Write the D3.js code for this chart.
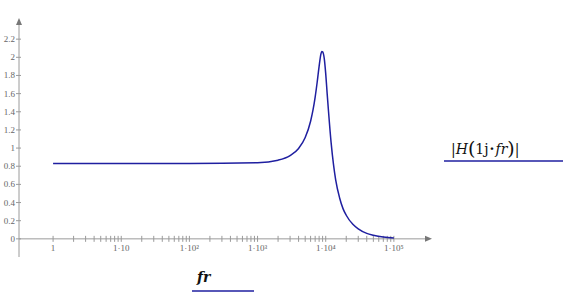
<!DOCTYPE html>
<html lang="en">
<head>
    <meta charset="UTF-8">
    <title>|H(1j·fr)|</title>
    <script src="https://d3js.org/d3.v7.min.js"></script>
    <style>
        body {
            margin: 0;
            background: #fff;
        }
        .tick-label {
            font-family: "Liberation Serif", serif;
            font-size: 9px;
            fill: #666;
        }
        .legend-text {
            font-family: "DejaVu Serif", serif;
            fill: #111;
        }
    </style>
</head>
<body>
    <div id="chart"></div>

    <script>
        const width = 581, height = 298;

        // frequency samples (fr) and magnitude |H(1j*fr)|
        const freqs = [1, 10, 100, 1000, 2000, 3000, 4000, 5000, 6000, 6500, 7000, 7500, 8000, 8500, 8750, 9000,
                       9500, 10000, 10500, 11000, 12000, 13000, 14000, 16000, 18000, 20000, 25000, 30000, 40000,
                       50000, 70000, 100000];
        const mags = [0.83, 0.83, 0.83, 0.839, 0.867, 0.917, 0.996, 1.116, 1.296, 1.417, 1.562, 1.728, 1.90, 2.035, 2.065, 2.06,
                      1.99, 1.82, 1.60, 1.40, 1.06, 0.82, 0.65, 0.45, 0.33, 0.26, 0.16, 0.11, 0.06,
                      0.04, 0.02, 0.01];

        const yTicks = [0, 0.2, 0.4, 0.6, 0.8, 1, 1.2, 1.4, 1.6, 1.8, 2, 2.2];
        const xMajor = [1, 10, 100, 1000, 10000, 100000];
        const xMajorLabels = ["1", "1·10", "1·10²", "1·10³", "1·10⁴", "1·10⁵"];

        const data = freqs.map((f, i) => ({ f: f, m: mags[i] }));

        const svg = d3.select("#chart")
            .append("svg")
            .attr("width", width)
            .attr("height", height);

        const x = d3.scaleLog()
            .domain([Math.pow(10, -0.5), Math.pow(10, 5.53)])
            .range([19, 430]);

        const y = d3.scaleLinear()
            .domain([-0.2, 2.4])
            .range([257, 21]);

        const axisColor = "#9a9a9a";
        const x0 = x.range()[0];

        // y axis line + arrow
        svg.append("line")
            .attr("x1", x0).attr("x2", x0)
            .attr("y1", y(-0.2)).attr("y2", y(2.4) + 2)
            .attr("stroke", axisColor).attr("stroke-width", 1);
        svg.append("path")
            .attr("d", `M${x0 - 3},${y(2.4) + 4} L${x0},${y(2.4) - 3} L${x0 + 3},${y(2.4) + 4} Z`)
            .attr("fill", "#777");

        // x axis line + arrow
        svg.append("line")
            .attr("x1", x0).attr("x2", x.range()[1] - 2)
            .attr("y1", y(0)).attr("y2", y(0))
            .attr("stroke", axisColor).attr("stroke-width", 1);
        svg.append("path")
            .attr("d", `M${x.range()[1] - 5},${y(0) - 3} L${x.range()[1] + 2},${y(0)} L${x.range()[1] - 5},${y(0) + 3} Z`)
            .attr("fill", "#777");

        // y ticks
        svg.selectAll(".ytick")
            .data(yTicks)
            .join("line")
            .attr("x1", x0 - 3).attr("x2", x0 + 2)
            .attr("y1", d => y(d)).attr("y2", d => y(d))
            .attr("stroke", axisColor);
        svg.selectAll(".ylabel")
            .data(yTicks)
            .join("text")
            .attr("class", "tick-label")
            .attr("x", x0 - 4)
            .attr("y", d => y(d) + 3)
            .attr("text-anchor", "end")
            .text(d => d3.format("~g")(d));

        // x ticks: majors and minors (2..9 per decade)
        const minor = [];
        xMajor.slice(0, -1).forEach(d => {
            for (let k = 2; k <= 9; k++) minor.push(d * k);
        });
        svg.selectAll(".xtick")
            .data(xMajor.concat(minor))
            .join("line")
            .attr("x1", d => x(d)).attr("x2", d => x(d))
            .attr("y1", y(0) - 3).attr("y2", y(0) + 3)
            .attr("stroke", axisColor);
        svg.selectAll(".xlabel")
            .data(xMajor)
            .join("text")
            .attr("class", "tick-label")
            .attr("x", d => x(d))
            .attr("y", y(0) + 12)
            .attr("text-anchor", "middle")
            .text((d, i) => xMajorLabels[i]);

        // curve
        const line = d3.line()
            .x(d => x(d.f))
            .y(d => y(d.m))
            .curve(d3.curveMonotoneX);

        svg.append("path")
            .datum(data)
            .attr("d", line)
            .attr("fill", "none")
            .attr("stroke", "#1f1fa0")
            .attr("stroke-width", 1.5);

        // trace label (right)
        const lab = svg.append("text")
            .attr("class", "legend-text")
            .attr("x", 451)
            .attr("y", 154)
            .attr("font-size", 14);
        lab.append("tspan").text("|");
        lab.append("tspan").attr("font-style", "italic").text("H");
        lab.append("tspan").attr("font-size", 19).attr("dy", 1).attr("font-weight", "300").text("(");
        lab.append("tspan").attr("dy", -1).text("1j");
        lab.append("tspan").attr("dx", 1).attr("font-weight", "bold").text("·");
        lab.append("tspan").attr("dx", 1).attr("font-style", "italic").text("fr");
        lab.append("tspan").attr("font-size", 19).attr("dy", 1).text(")");
        lab.append("tspan").attr("dy", -1).text("|");

        svg.append("line")
            .attr("x1", 444).attr("x2", 563)
            .attr("y1", 161).attr("y2", 161)
            .attr("stroke", "#1f1fa0").attr("stroke-width", 1.5);

        // x variable label (bottom)
        svg.append("text")
            .attr("class", "legend-text")
            .attr("x", 197)
            .attr("y", 282)
            .attr("font-size", 14)
            .attr("font-style", "italic")
            .attr("font-weight", "bold")
            .text("fr");

        svg.append("line")
            .attr("x1", 192).attr("x2", 254)
            .attr("y1", 291).attr("y2", 291)
            .attr("stroke", "#1f1fa0").attr("stroke-width", 1.5);
    </script>
</body>
</html>
